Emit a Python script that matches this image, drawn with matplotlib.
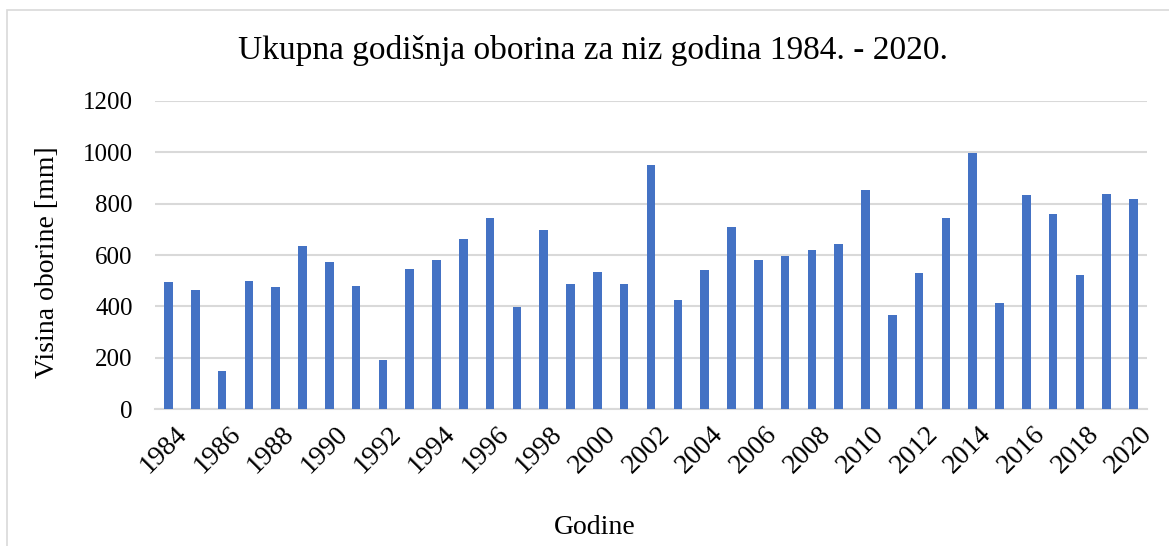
import numpy as np
import matplotlib
matplotlib.use("Agg")
from matplotlib import pyplot as plt
from matplotlib.patches import Rectangle
from matplotlib.transforms import ScaledTranslation

years = list(range(1984, 2021))
precip = [494, 462, 147, 497, 474, 635, 574, 478, 190, 545, 579, 662,
          745, 396, 699, 486, 532, 487, 952, 423, 540, 709, 579, 597,
          621, 643, 855, 365, 529, 743, 997, 414, 834, 758, 521, 836, 819]
tick_years = years[::2]

plt.rcParams['font.family'] = ['Liberation Serif', 'DejaVu Serif']

fig = plt.figure(figsize=(11.69, 5.46), dpi=100)
ax = fig.add_axes([155 / 1169, 1 - 409 / 546, 992 / 1169, 308 / 546])

x = np.arange(len(years))
ax.bar(x, precip, width=0.32, color='#4472C4', zorder=3)

ax.set_xlim(-0.5, len(years) - 0.5)
ax.set_ylim(0, 1200)
ax.set_yticks(range(0, 1201, 200))
ax.yaxis.grid(True, color='#d9d9d9', linewidth=1.5, zorder=0)
ax.set_xticks(x[::2])
ax.set_xticklabels([str(y) for y in tick_years], rotation=45, ha='right',
                   rotation_mode='anchor', fontsize=20)
ax.tick_params(axis='both', length=0)
ax.tick_params(axis='y', pad=16, labelsize=18)
ax.tick_params(axis='x', pad=9)
shift = ScaledTranslation(6 / 100, 0, fig.dpi_scale_trans)
for lbl in ax.get_xticklabels():
    lbl.set_transform(lbl.get_transform() + shift)
for s in ['top', 'right', 'left']:
    ax.spines[s].set_visible(False)
ax.spines['bottom'].set_color('#d9d9d9')
ax.spines['bottom'].set_linewidth(1.5)

fig.text(48 / 1169, 1 - 262 / 546, 'Visina oborine [mm]', fontsize=20,
         rotation=90, ha='center', va='center')
fig.text(595 / 1169, 1 - 528 / 546, 'Godine', fontsize=20, ha='center', va='center')
fig.text(593 / 1169, 1 - 50 / 546, 'Ukupna godišnja oborina za niz godina 1984. - 2020.',
         fontsize=24, ha='center', va='center')

fig.patches.append(Rectangle((7 / 1169, -0.1), 1.2, 1 - 10 / 546 + 0.1,
                             transform=fig.transFigure, fill=False,
                             edgecolor='#d9d9d9', linewidth=1.2))

fig.savefig('out.png', dpi=100)
